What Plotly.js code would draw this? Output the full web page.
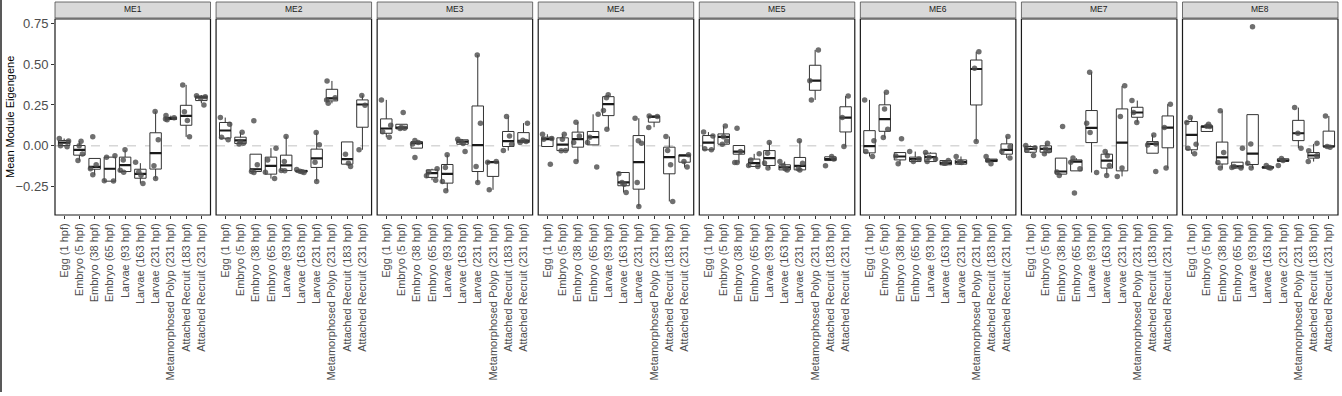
<!DOCTYPE html>
<html>
<head>
<meta charset="utf-8">
<script src="https://cdn.plot.ly/plotly-3.0.1.min.js"></script>
<style>
html,body{margin:0;padding:0;background:#fff;}
#chart{width:1342px;height:396px;}
</style>
</head>
<body>
<div id="chart"></div>
<script>
const MODULES = ["ME1","ME2","ME3","ME4","ME5","ME6","ME7","ME8"];
const STAGES = ["Egg (1 hpf)","Embryo (5 hpf)","Embryo (38 hpf)","Embryo (65 hpf)","Larvae (93 hpf)","Larvae (163 hpf)","Larvae (231 hpf)","Metamorphosed Polyp (231 hpf)","Attached Recruit (183 hpf)","Attached Recruit (231 hpf)"];
const Y_TICKS = [-0.25, 0, 0.25, 0.5, 0.75];
const Y_TITLE = "Mean Module Eigengene";
const BASELINE = 0;

// box statistics: one row per module, one column per stage
const Q1 = [
  [0.002,-0.057,-0.143,-0.216,-0.157,-0.198,-0.142,0.161,0.126,0.277],
  [0.047,0.014,-0.157,-0.173,-0.151,-0.160,-0.132,0.275,-0.112,0.114],
  [0.077,0.104,-0.014,-0.193,-0.228,0.010,-0.157,-0.187,-0.004,0.020],
  [-0.004,-0.029,-0.008,0.006,0.185,-0.244,-0.265,0.145,-0.171,-0.100],
  [-0.024,0.010,-0.051,-0.126,-0.120,-0.147,-0.147,0.340,-0.090,0.085],
  [-0.043,0.089,-0.086,-0.096,-0.096,-0.116,-0.112,0.250,-0.096,-0.051],
  [-0.039,-0.039,-0.173,-0.153,0.020,-0.136,-0.153,0.175,-0.045,-0.012],
  [-0.024,0.088,-0.111,-0.136,-0.114,-0.136,-0.094,0.032,-0.075,-0.006]
];
const MEDIAN = [
  [0.020,-0.024,-0.128,-0.140,-0.118,-0.171,-0.045,0.169,0.183,0.297],
  [0.094,0.033,-0.143,-0.122,-0.120,-0.155,-0.077,0.291,-0.081,0.253],
  [0.106,0.112,0.016,-0.167,-0.171,0.026,0.004,-0.100,0.029,0.031],
  [0.041,0.008,0.041,0.053,0.255,-0.224,-0.100,0.179,-0.069,-0.059],
  [0.020,0.055,-0.035,-0.106,-0.075,-0.132,-0.122,0.399,-0.081,0.173],
  [-0.002,0.164,-0.065,-0.081,-0.069,-0.106,-0.100,0.470,-0.090,-0.024],
  [-0.018,-0.018,-0.157,-0.096,0.110,-0.090,0.020,0.204,0.012,0.112],
  [0.067,0.118,-0.071,-0.126,-0.047,-0.132,-0.090,0.077,-0.059,-0.004]
];
const Q3 = [
  [0.033,0.002,-0.077,-0.069,-0.069,-0.143,0.080,0.175,0.248,0.305],
  [0.143,0.053,-0.051,-0.069,-0.057,-0.150,-0.020,0.346,0.024,0.281],
  [0.165,0.132,0.026,-0.147,-0.114,0.037,0.244,-0.096,0.088,0.081],
  [0.053,0.049,0.084,0.088,0.301,-0.163,0.063,0.181,-0.008,-0.055],
  [0.063,0.073,0.002,-0.081,-0.029,-0.116,-0.071,0.493,-0.067,0.239],
  [0.093,0.251,-0.041,-0.069,-0.045,-0.090,-0.086,0.525,-0.081,0.012],
  [-0.004,0.000,-0.075,-0.086,0.216,-0.051,0.226,0.236,0.026,0.183],
  [0.149,0.122,0.023,-0.100,0.191,-0.128,-0.079,0.156,-0.041,0.090]
];
const LOWER = [
  [-0.005,-0.090,-0.177,-0.216,-0.160,-0.230,-0.200,0.160,0.055,0.260],
  [0.037,0.012,-0.163,-0.200,-0.151,-0.163,-0.216,0.260,-0.112,-0.024],
  [0.053,0.104,-0.014,-0.210,-0.275,0.010,-0.224,-0.269,-0.029,0.020],
  [-0.004,-0.029,-0.096,0.006,0.102,-0.285,-0.371,0.114,-0.340,-0.132],
  [-0.024,0.010,-0.102,-0.126,-0.136,-0.147,-0.147,0.281,-0.090,-0.004],
  [-0.065,0.051,-0.110,-0.096,-0.096,-0.116,-0.112,0.026,-0.096,-0.075],
  [-0.045,-0.049,-0.181,-0.153,-0.163,-0.177,-0.187,0.143,-0.045,-0.136],
  [-0.049,0.088,-0.136,-0.136,-0.136,-0.136,-0.094,-0.014,-0.096,-0.008]
];
const UPPER = [
  [0.045,0.028,-0.077,-0.069,-0.026,-0.106,0.210,0.185,0.373,0.310],
  [0.173,0.083,-0.051,-0.014,0.057,-0.145,0.080,0.397,0.024,0.308],
  [0.281,0.132,0.033,-0.140,-0.055,0.041,0.556,-0.095,0.179,0.139],
  [0.071,0.071,0.145,0.193,0.312,-0.163,0.169,0.183,0.057,-0.055],
  [0.084,0.122,0.002,-0.049,0.020,-0.096,0.031,0.587,-0.065,0.305],
  [0.281,0.328,-0.041,-0.035,-0.040,-0.090,-0.065,0.576,-0.081,0.057],
  [0.002,0.016,-0.075,-0.075,0.450,-0.035,0.367,0.277,0.067,0.255],
  [0.173,0.132,0.214,-0.100,0.191,-0.120,-0.079,0.234,0.012,0.183]
];
// replicate values (points) per module and stage
const POINTS = [
  [[0.045,0.030,0.000,-0.005],[0.028,0.000,-0.050,-0.090],[0.055,-0.116,-0.140,-0.177],[-0.061,-0.070,-0.214,-0.215],[-0.024,-0.086,-0.150,-0.161],[-0.100,-0.160,-0.180,-0.230],[0.210,0.037,-0.122,-0.200],[0.185,0.172,0.165,0.160],[0.373,0.208,0.155,0.055],[0.307,0.300,0.290,0.250]],
  [[0.173,0.132,0.053,0.037],[0.083,0.026,0.016,0.012],[0.153,-0.116,-0.157,-0.163],[-0.014,-0.086,-0.161,-0.200],[0.057,-0.096,-0.151,-0.152],[-0.145,-0.155,-0.158,-0.163],[0.081,0.006,-0.100,-0.218],[0.397,0.295,0.280,0.260],[-0.051,-0.106,-0.126],[0.308,0.249,-0.024]],
  [[0.281,0.126,0.086,0.053],[0.204,0.112,0.108,0.106],[0.033,0.020,0.012,-0.071],[-0.140,-0.160,-0.183,-0.210],[-0.055,-0.132,-0.218,-0.275],[0.041,0.026,0.015,-0.035],[0.556,0.138,-0.126,-0.224],[-0.095,-0.100,-0.269],[0.179,0.061,0.010,-0.029],[0.139,0.035,0.026,0.020]],
  [[0.071,0.045,0.041,-0.112],[0.071,0.040,-0.029,-0.030],[0.145,0.061,0.020,-0.096],[0.193,0.053,0.020,-0.130],[0.312,0.295,0.216,0.102],[-0.170,-0.224,-0.235,-0.285],[0.169,0.031,0.016,-0.224,-0.371],[0.183,0.180,0.112],[0.057,-0.029,-0.116,-0.340],[-0.055,-0.095,-0.130]],
  [[0.084,0.060,-0.018,-0.024],[0.122,0.055,0.030,0.010],[0.108,-0.035,-0.102,-0.102],[-0.049,-0.086,-0.120,-0.126],[0.020,-0.045,-0.105,-0.136],[-0.096,-0.120,-0.140,-0.147],[0.031,-0.106,-0.140,-0.147],[0.587,0.399,0.281],[-0.065,-0.081,-0.122],[0.305,0.173,-0.004]],
  [[0.281,0.031,-0.035,-0.065],[0.328,0.226,0.102,0.051],[0.043,-0.062,-0.110],[-0.035,-0.081,-0.096],[-0.040,-0.069,-0.080,-0.096],[-0.090,-0.106,-0.106],[-0.065,-0.100,-0.102],[0.576,0.475,0.026],[-0.065,-0.090,-0.110],[0.057,-0.005,-0.035,-0.075]],
  [[0.002,-0.012,-0.025,-0.059],[0.016,-0.020,-0.030,-0.049],[0.118,-0.160,-0.181],[-0.075,-0.100,-0.140,-0.289],[0.450,0.138,0.081,-0.163],[-0.035,-0.060,-0.120,-0.181],[0.367,0.179,-0.136,-0.187],[0.277,0.204,0.143],[0.067,0.012,0.005,-0.157],[0.255,0.112,-0.136]],
  [[0.173,0.143,0.010,-0.014,-0.049],[0.132,0.120,0.118],[0.214,-0.041,-0.102,-0.136],[-0.014,-0.126,-0.132,-0.136],[0.729,0.012,-0.106,-0.136],[-0.120,-0.132,-0.136],[-0.078,-0.090,-0.120],[0.234,0.077,-0.014],[0.016,-0.030,-0.060,-0.096],[0.183,-0.004,-0.008]]
];

const FONT = '"Liberation Sans", Arial, Helvetica, sans-serif';
const ML = 55, MR = 4, MT = 19, MB = 181;
const PLOT_W = 1342 - ML - MR, PLOT_H = 396 - MT - MB;
const PANEL_W = 155.5;
const GAP = (PLOT_W - MODULES.length * PANEL_W) / (MODULES.length - 1);

const data = [];
const shapes = [];
const annotations = [];
const layout = {
  width: 1342, height: 396,
  margin: {l: ML, r: MR, t: MT, b: MB, pad: 0},
  paper_bgcolor: '#fff', plot_bgcolor: '#fff',
  showlegend: false,
  font: {family: FONT, color: '#4d4d4d'},
  boxmode: 'overlay',
  yaxis: {
    domain: [0, 1], anchor: 'x', range: [-0.423, 0.776],
    tickvals: Y_TICKS, tickformat: '.2f',
    ticks: 'outside', ticklen: 3, tickwidth: 1, tickcolor: '#333',
    tickfont: {family: FONT, size: 13, color: '#4d4d4d'},
    showgrid: false, zeroline: false, showline: false
  }
};

MODULES.forEach((m, k) => {
  const axName = k === 0 ? 'x' : 'x' + (k + 1);
  const layoutKey = k === 0 ? 'xaxis' : 'xaxis' + (k + 1);
  const x0 = k * (PANEL_W + GAP) / PLOT_W;
  const x1 = (k * (PANEL_W + GAP) + PANEL_W) / PLOT_W;
  layout[layoutKey] = {
    domain: [x0, x1], anchor: 'y', type: 'category',
    categoryorder: 'array', categoryarray: STAGES,
    range: [-0.6, STAGES.length - 0.4],
    tickangle: -90, ticks: 'outside', ticklen: 3, tickwidth: 1, tickcolor: '#333',
    tickfont: {family: FONT, size: 11, color: '#4d4d4d'},
    showgrid: false, zeroline: false, showline: false
  };

  // boxes
  data.push({
    type: 'box', xaxis: axName, yaxis: 'y',
    x: STAGES, q1: Q1[k], median: MEDIAN[k], q3: Q3[k],
    lowerfence: LOWER[k], upperfence: UPPER[k],
    width: 0.75, whiskerwidth: 0, fillcolor: '#ffffff',
    line: {color: '#333333', width: 1},
    boxpoints: false, hoverinfo: 'skip'
  });
  // thick median bars
  data.push({
    type: 'box', xaxis: axName, yaxis: 'y',
    x: STAGES, q1: MEDIAN[k], median: MEDIAN[k], q3: MEDIAN[k],
    lowerfence: MEDIAN[k], upperfence: MEDIAN[k],
    width: 0.75, whiskerwidth: 0, fillcolor: 'rgba(0,0,0,0)',
    line: {color: '#1a1a1a', width: 2.2},
    boxpoints: false, hoverinfo: 'skip'
  });
  // jittered replicate points
  const px = [], py = [];
  POINTS[k].forEach((vals, i) => vals.forEach(v => { px.push(STAGES[i]); py.push(v); }));
  data.push({
    type: 'box', xaxis: axName, yaxis: 'y',
    x: px, y: py, boxpoints: 'all', jitter: 1, pointpos: 0,
    width: 0.75, whiskerwidth: 0,
    fillcolor: 'rgba(0,0,0,0)', line: {color: 'rgba(0,0,0,0)', width: 0.1},
    marker: {color: 'rgba(75,75,75,0.8)', size: 5.5},
    hoveron: 'points'
  });

  const xd = axName + ' domain';
  // dashed zero line
  shapes.push({type: 'line', xref: xd, yref: 'y', x0: 0, x1: 1, y0: BASELINE, y1: BASELINE,
    line: {color: '#c2c2c2', width: 1, dash: 'dash'}, layer: 'below'});
  // panel border
  shapes.push({type: 'rect', xref: xd, yref: 'y domain', x0: 0, x1: 1, y0: 0, y1: 1,
    line: {color: '#1a1a1a', width: 1.2}, fillcolor: 'rgba(0,0,0,0)', layer: 'above'});
  // strip
  shapes.push({type: 'rect', xref: xd, yref: 'paper', x0: 0, x1: 1,
    y0: 1 + 1 / PLOT_H, y1: 1 + 17 / PLOT_H,
    line: {color: '#4d4d4d', width: 0.8}, fillcolor: '#d9d9d9', layer: 'above'});
  annotations.push({xref: xd, yref: 'paper', x: 0.5, y: 1 + 9.5 / PLOT_H,
    text: m, showarrow: false, xanchor: 'center', yanchor: 'middle',
    font: {family: FONT, size: 8.5, color: '#1a1a1a'}});
});

// y-axis title
annotations.push({xref: 'paper', yref: 'paper', x: (10 - ML) / PLOT_W, y: 0.5,
  text: Y_TITLE, textangle: -90, showarrow: false, xanchor: 'center', yanchor: 'middle',
  font: {family: FONT, size: 11, color: '#000'}});

// left frame edge of the original figure
shapes.push({type: 'line', xref: 'paper', yref: 'paper',
  x0: (1 - ML) / PLOT_W, x1: (1 - ML) / PLOT_W,
  y0: (PLOT_H + MT) / PLOT_H, y1: (PLOT_H + MT - 392) / PLOT_H,
  line: {color: '#222', width: 1.5}});

layout.shapes = shapes;
layout.annotations = annotations;

Plotly.newPlot('chart', data, layout, {displayModeBar: false, staticPlot: true});
</script>
</body>
</html>
